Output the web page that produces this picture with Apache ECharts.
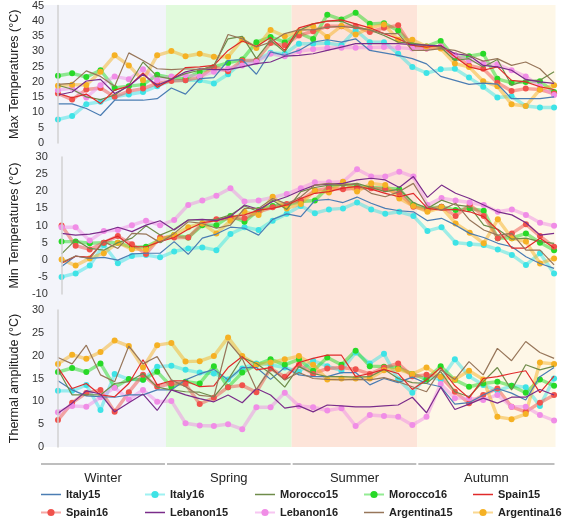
<!DOCTYPE html>
<html><head><meta charset="utf-8">
<script src="https://cdn.jsdelivr.net/npm/echarts@6/dist/echarts.min.js"></script>
<style>html,body{margin:0;padding:0;background:#fff}#c{width:564px;height:524px}</style>
</head><body><div id="c"></div>
<script>
// ---- data ----
const seriesNames = ['Italy15','Italy16','Morocco15','Morocco16','Spain15','Spain16','Lebanon15','Lebanon16','Argentina15','Argentina16'];
const seasons = ['Winter','Spring','Summer','Autumn'];
const seasonStart = [-0.34, 8.32, 16.96, 25.6];
const seasonEnd = [8.32, 16.96, 25.6, 35.1];
const maxTicks = [0,5,10,15,20,25,30,35,40,45];
const minTicks = [-10,-5,0,5,10,15,20,25,30];
const ampTicks = [0,5,10,15,20,25,30];

const italy15Max = [12.8,12.8,11.3,9,14,14,14,14.5,18,16,21.1,21.4,27,27.3,22.5,29.8,28.7,30.3,33,33.8,33,34.1,30.3,29.5,28.7,27.6,25.9,21.8,20.5,19.2,19.6,19.3,14.5,14.5,14.5,15.1];
const italy16Max = [7.7,8.8,12.7,13.5,15.1,15.9,16.7,18.6,20.5,20.5,20.5,19.5,22.5,26.5,27,29.5,29.2,32.5,32.5,32.7,32,37,33,33,29.2,24.9,22.9,24.1,24.3,21.4,18.4,14.9,15.3,12.1,11.6,11.6];
const morocco15Max = [18.9,17.6,15.1,14.2,15.7,18.9,26.5,21.8,21,22.7,23.8,25.4,34.1,34.9,27.6,33.6,29.8,36.8,39,39.9,39.9,37.9,37,35.2,33,32.7,32,31.4,27,27.6,24.9,27.3,18.9,20.5,20.5,23.3];
const morocco16Max = [22,22.8,21.6,23.8,18,18.6,19.1,22.3,21.4,21,23.3,24.9,26.2,27.3,33,34.7,33,36,34,42,40.4,42.6,39,39.2,36.8,32,31.6,33.4,27.9,28.4,29.2,21,19.7,20,20.2,16.7];
const spain15Max = [16.2,14.8,16,12.9,17.3,18.6,22.9,18.2,20.8,24.7,24.9,25.4,30.3,33.4,31.6,34.5,30.3,37.7,39,39.9,40.3,39,37.7,35.8,34.1,32,31.4,32,28.2,24.9,23.8,24.9,20.5,20,18.4,17.5];
const spain16Max = [16.2,14.2,17.5,18,15.1,17,17.8,19.5,20.3,20.5,21.5,24.9,23.5,27,27,32.7,32,35.2,36.6,38.2,38.2,38.2,36.3,37.7,38.5,31.4,30.9,31.6,28.7,25.4,24.3,19.7,17,17.8,17.5,16.2];
const lebanon15Max = [15.7,16.7,20.3,20.8,16.2,18.6,22.5,18.9,20.8,23.3,24.3,24,24,24.9,26,26.5,28.4,28.7,29.2,30.3,31.4,32.5,32.5,32.5,32.5,32.2,32,31.8,29.2,28.7,25.4,24.9,23.8,20.8,20,19.5];
const lebanon16Max = [17.3,18,14.9,18.9,21.8,20.9,24.1,20.5,21.8,22.2,21.8,23.3,24.3,25.4,26.5,29.2,28.4,30,30.7,31.1,31.2,31.2,31.2,31.4,31.2,30.9,30.9,31.6,28.7,27.1,26,25.8,23.8,21.8,18.6,15.7];
const argentina15Max = [19.2,19.5,23.6,21.8,18.6,29.5,27,24.3,24,24.3,24,24.9,35.5,34.1,31.4,33,35.8,37,37,37.9,38.2,37.7,37,35.8,35.8,30.3,30.3,30.9,30.3,28.7,26.8,27.6,25.4,26.5,24.3,19.7];
const argentina16Max = [18.7,19.1,19,23.3,28.7,25.4,20.5,28.7,30.1,28.4,29.2,28.2,28.2,33.9,31.1,37,34.9,36.6,38.3,34.7,38.3,35.5,37.7,38.8,33.8,33.8,31.6,30.9,26,24.9,20.2,18.6,12.7,12.1,17.5,18.9];

const italy15Min = [-2,1.1,0.4,0.7,-0.1,1.7,1.9,1.9,5.3,1.6,6.3,7.5,9.5,9.2,7.2,11.8,13.4,12.6,17.3,17.6,16.7,18.3,16.5,15,14.3,14,11.4,12.1,10.1,7.7,6.5,4.8,3.8,0.9,-1.1,-2.5];
const italy16Min = [-5,-4,-1.7,4.3,-1,1.1,1.4,0.7,2.4,3.3,3.6,2.8,7.5,9.5,8.7,11.4,13.4,15.7,13.6,14.7,15,16.7,14.7,13.4,14,12.8,8.4,9.5,5,4.6,4.3,3,1.4,-1.5,1.9,-4];
const morocco15Min = [1.7,5.8,3.3,2.8,5,6.3,9.9,7.2,8.9,11.6,11.6,11.8,13.1,15.7,14,17.4,14.7,19.9,21.1,21.8,21.8,22.3,21.1,19.9,20.6,16.7,15,17.4,16,15.5,10.1,8.9,6,6.3,5.3,4.8];
const morocco16Min = [5.3,5.3,4.8,5,5,3.6,3.8,5.8,7.2,6.5,10.1,10.1,12.8,11.1,14.5,15.7,16,17,17.3,21.4,22.1,21.4,21.1,20.9,20.6,16,15,15.5,14.5,15,14.3,6.3,6.3,7.7,5,2.8];
const spain15Min = [-1,1,0.8,5.3,6.9,3.8,3.8,5.3,6.5,8.9,10.8,11.4,12.6,13.1,14.5,15,16,17.9,19.4,19.9,20.9,21.4,20.6,19.4,18.4,19.4,15,14.5,14.7,14,12.6,8.7,3.4,3.4,6.3,3.4];
const spain16Min = [10,4.1,3,5,6.9,4.5,1.7,6.5,6.5,6.5,10.6,11.8,12.1,12.1,14,15.3,16.3,17.4,20.2,20.9,20.6,20.9,20.9,20.6,19.4,15.5,14.5,15.5,12.8,16,12.8,6.3,7.7,10.4,6.9,3.8];
const lebanon15Min = [7.7,7.2,7.5,8.2,9.5,8.2,10.1,11.4,8.7,11.6,11.8,11.4,12.6,16,14.7,17,18.4,20.2,21.8,22.1,22.3,23.3,23.8,23.3,21.1,24.3,18.2,21.8,19.4,17.9,16,14,13.1,10.8,7.2,7.7];
const lebanon16Min = [9.5,9.5,5.6,8.4,8.7,10.1,11.4,10.1,11.6,16,17.3,18.7,20.9,17,17.3,18.2,19.2,20.9,22.6,22.6,22.8,26.4,24.3,24.3,25.7,24.3,16,18,17.3,16.7,16,14,14.7,13.1,10.8,9.9];
const argentina15Min = [-0.8,1.1,0.4,5.3,3.3,7.7,7.5,5,7.7,11.1,10.6,9.2,10.1,15,15,17.9,16.3,18.4,21.8,22.3,21.8,22.1,19.4,18.4,19.9,22.3,15.7,14.5,16.5,11.6,8.7,7.2,7.7,2.8,2.8,-1.5];
const argentina16Min = [0.1,-1.7,0.4,1.9,5,3.1,3,6,7.2,9.5,10.6,7.7,11.4,14,13.1,18.4,15,16.3,20.2,19.6,22.8,19.9,22.3,21.8,17.9,15.7,14,15.3,10.6,7.9,4.8,11.8,6.3,5.3,-1.1,0.4];

const italy15Amp = [14.5,12.5,11.2,11,10.9,11.4,11.4,12.5,12.5,14.7,16,17,14.7,17.4,17.4,14.8,17.4,15.8,15.4,15.4,16.3,16.3,13.6,15,14.1,15.3,13.9,13.2,9.4,9.7,11.4,12.8,11.8,10.3,15.4,17.4];
const italy16Amp = [12.3,12.3,13.6,8.1,16,14.8,14.7,17.6,17.8,16.9,16.3,16.1,14.8,17.2,18.3,18,17.4,16.5,18.9,17.7,16.7,20.7,18.3,20.4,14.8,11.9,15.3,14.8,19.2,15.5,13.6,12.3,13.4,13.1,9,15];
const morocco15Amp = [17,11.4,11.4,11.4,13.9,14.3,16.1,13.1,12.5,12.1,12,11,14.7,19.6,18.3,16.1,13.1,17.6,16.1,15.4,15.4,15.3,15.4,17,15,14.1,13.9,16.5,12.1,11,14.3,17.4,12.5,18,16.9,17.7];
const morocco16Amp = [16.4,17.3,16.4,18.3,13.1,14.9,14.7,16.5,13.2,14.3,13.9,17.7,13.1,16.3,18,19.2,18,19.2,16.7,19.6,18,21.1,17.7,17.6,17.4,16,14.8,17.7,14.7,13.2,13.9,14.3,13.4,11.9,14.8,13.4];
const spain15Amp = [17.4,12.8,13.9,11.4,11,13.9,19.1,13.6,14.5,14.5,13.2,13.4,17.4,19.8,16.9,17.4,14.7,18.5,19.4,20.1,20.1,15.4,16.1,17,16.1,12.6,14.7,17.4,13.4,10.7,15,15.4,16.1,16.7,11.9,15.5];
const spain16Amp = [5.9,9.7,11.8,12.5,7.7,12,15.8,13.2,13.9,13.8,9.4,10.8,13.1,13.5,12,17.2,15.4,18,16,17.2,17.4,17,16,17.4,18.3,15.5,15.8,15.4,12.1,9.6,11.4,12.8,8.8,7.7,9.7,11.4];
const lebanon15Amp = [7.4,9.6,12.3,11.6,7.7,9.7,11.6,8,12.5,11.4,10.6,9.9,11.4,9.7,12.8,11.4,8.5,9,7.7,9.2,9,8.8,8.8,9,9.2,10.9,7.5,13.1,8.2,9.4,10.7,9.6,10.9,10.9,12.6,11.4];
const lebanon16Amp = [7.6,9,8.8,10.9,13,10.4,12.5,9.9,10.1,5.2,4.7,4.6,5,3.9,8.7,8.7,11.9,9,8.7,8,8.5,4.6,7,6.8,6.6,4.8,6.6,13.8,10.7,10.7,10.3,11.4,8.8,8.8,7,5.8];
const argentina15Amp = [19.6,18.2,22.3,15.8,14.3,22.1,18.2,19.8,14.7,13.2,11.3,11,23.1,19.4,12.6,17.2,14.7,16.3,15,14.8,14.7,14.8,14.7,15.2,14.3,13.2,12.1,16.9,14.8,18.7,15.8,21.6,18.9,23.1,20.7,19.4];
const argentina16Amp = [18.2,20.2,19.3,20.8,23.3,22.1,17.4,22.3,22.8,18.7,18.8,19.9,24,19.9,18,18.5,19.2,19.9,18,14.8,15,15,15,16.8,17,16,17.4,15.4,14.8,16.7,14.8,6.6,6.1,7.2,18.5,18.2];

// ---- styles ----
const colors = ['#4b7db3','#3ee3e6','#6f8c4a','#27d927','#e02a2a','#f0524c','#7a2c8a','#f08de6','#97765a','#f5b124'];
const seasonFill = ['#f3f4fa','#e1fadc','#fde4d9','#fef7e7'];
const FONT = '"Liberation Sans", Arial, Helvetica, sans-serif';

const panels = [
  [italy15Max,italy16Max,morocco15Max,morocco16Max,spain15Max,spain16Max,lebanon15Max,lebanon16Max,argentina15Max,argentina16Max],
  [italy15Min,italy16Min,morocco15Min,morocco16Min,spain15Min,spain16Min,lebanon15Min,lebanon16Min,argentina15Min,argentina16Min],
  [italy15Amp,italy16Amp,morocco15Amp,morocco16Amp,spain15Amp,spain16Amp,lebanon15Amp,lebanon16Amp,argentina15Amp,argentina16Amp]
];
const panelTicks = [maxTicks, minTicks, ampTicks];
const panelNames = ['Max Temperatures (°C)','Min Temperatures (°C)','Thermal amplitude (°C)'];

const XMIN = -0.34, XMAX = 35.1;
const grids = [
  {left:40, top:5, width:515.5, height:442},   // background
  {left:40, top:5, width:515.5, height:138},
  {left:40, top:157, width:515.5, height:137},
  {left:40, top:310, width:515.5, height:137},
  {left:40, top:464, width:515.5, height:10}   // season axis
];
const xAxes = grids.map((g,i)=>({type:'value', gridIndex:i, min:XMIN, max:XMAX, show:false}));
const yAxes = grids.map((g,i)=>{
  if (i===0 || i===4) return {type:'value', gridIndex:i, min:0, max:1, show:false};
  const t = panelTicks[i-1];
  return {
    type:'value', gridIndex:i, min:t[0], max:t[t.length-1], interval:5, z:5,
    name: panelNames[i-1], nameLocation:'middle', nameGap:21,
    nameTextStyle:{fontSize:12.5, color:'#222', fontFamily:FONT},
    axisLine:{show:true, lineStyle:{color:'#d2d2d2', width:1.5}},
    axisTick:{show:false}, splitLine:{show:false},
    axisLabel:{fontSize:11, color:'#333', margin:9, fontFamily:FONT}
  };
});

const series = [];
series.push({
  type:'custom', xAxisIndex:0, yAxisIndex:0, silent:true, z:0,
  data: seasons.map((s,i)=>[seasonStart[i], seasonEnd[i], i]),
  encode:{x:[0,1]},
  renderItem:(params, api)=>{
    const p0 = api.coord([api.value(0), 1]);
    const p1 = api.coord([api.value(1), 0]);
    return {type:'rect', shape:{x:p0[0], y:p0[1], width:p1[0]-p0[0], height:p1[1]-p0[1]},
      style:{fill: seasonFill[api.value(2)]}};
  }
});
series.push({
  type:'custom', xAxisIndex:4, yAxisIndex:4, silent:true, z:1, clip:false,
  data: seasons.map((s,i)=>[seasonStart[i], seasonEnd[i], s]),
  encode:{x:[0,1]},
  renderItem:(params, api)=>{
    const p0 = api.coord([api.value(0), 1]);
    const p1 = api.coord([api.value(1), 1]);
    return {type:'group', children:[
      {type:'line', shape:{x1:p0[0]+1, y1:p0[1], x2:p1[0]-1, y2:p1[1]}, style:{stroke:'#a9a9a9', lineWidth:1.5}},
      {type:'text', style:{text: seasons[params.dataIndex], x:(p0[0]+p1[0])/2, y:p0[1]+14,
        align:'center', verticalAlign:'middle', fontSize:13, fill:'#222', fontFamily:FONT}}
    ]};
  }
});

panels.forEach((arrs, pi)=>{
  arrs.forEach((vals, si)=>{
    const is16 = si % 2 === 1;
    series.push({
      name: seriesNames[si], type:'line', xAxisIndex:pi+1, yAxisIndex:pi+1, z:is16?3:4,
      data: vals.map((v,i)=>[i, v]),
      symbol: is16 ? 'circle' : 'none', symbolSize: 6, showSymbol: is16,
      lineStyle: {color: colors[si], width: is16 ? 3.4 : 1.2, opacity: is16 ? 0.5 : 1},
      itemStyle: {color: colors[si]},
      emphasis:{disabled:true}
    });
  });
});

const legendCols = [[0,5],[1,6],[2,7],[3,8],[4,9]];
const legendLeft = [40,144,254,363,472];
const legends = legendCols.map((c,k)=>({
  data: c.map(i => (i % 2 === 0)
      ? {name: seriesNames[i], icon: 'path://M0,0H40V3H0Z', itemStyle:{color: colors[i]}}
      : {name: seriesNames[i]}),
  orient:'vertical', left:legendLeft[k], top:489, padding:0,
  itemWidth:20, itemHeight:9, itemGap:7,
  textStyle:{fontSize:11, fontWeight:'bold', color:'#222', fontFamily:FONT}
}));

const chart = echarts.init(document.getElementById('c'), null, {renderer:'canvas'});
chart.setOption({
  animation:false,
  backgroundColor:'#fff',
  grid: grids, xAxis: xAxes, yAxis: yAxes, legend: legends, series
});
</script></body></html>
